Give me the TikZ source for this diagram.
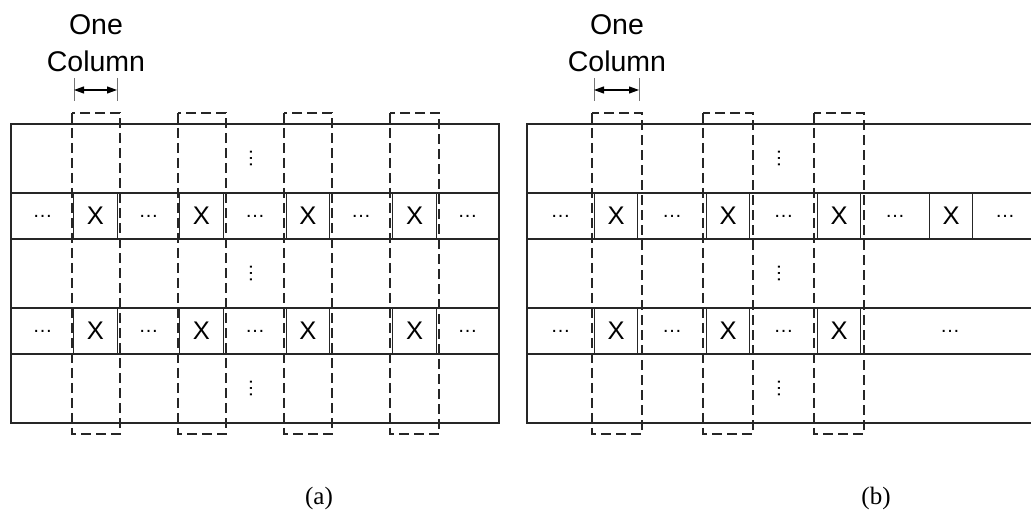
\documentclass[tikz,border=0pt]{standalone}
\usepackage{fontspec}
\setmainfont{Liberation Serif}
\setsansfont{Liberation Sans}
\usetikzlibrary{arrows.meta}

\begin{document}
\begin{tikzpicture}[x=1pt,y=-1pt,row/.style={draw=black!85,line width=1.1pt},cell/.style={draw=black!85,line width=1.1pt,minimum width=43.5pt,minimum height=46pt,inner sep=0pt,font=\sffamily\fontsize{25.5}{25.5}\selectfont},dots/.style={inner sep=0pt,font=\sffamily\fontsize{20}{20}\selectfont},colbox/.style={draw=black!85,line width=1.1pt,dash pattern=on 10pt off 5pt},lbl/.style={anchor=base,inner sep=0pt,font=\sffamily\fontsize{28.5}{34}\selectfont},tick/.style={draw=black!55,line width=1pt},a/.style={{Triangle[length=10pt,width=7pt]}-{Triangle[length=10pt,width=7pt]},line width=1.1pt},captxt/.style={anchor=base,inner sep=0pt,font=\fontsize{25}{28}\selectfont}]
\clip (0,0) rectangle (1031,510);
% (a) four columns in every X row
\draw[row] (11,124) rectangle (499,423) (11,193)--(499,193) (11,239)--(499,239) (11,308)--(499,308) (11,354)--(499,354);
\node[cell] (a21) at (95.5,216) {X}; \node[cell] (a22) at (201.5,216) {X}; \node[cell] (a23) at (308,216) {X}; \node[cell] (a24) at (414.5,216) {X};
\node[cell] (a41) at (95.5,331) {X}; \node[cell] (a42) at (201.5,331) {X}; \node[cell] (a43) at (308,331) {X}; \node[cell] (a44) at (414.5,331) {X};
\node[dots] (ad20) at (42.5,216) {…}; \node[dots] (ad21) at (148.5,216) {…}; \node[dots] (ad22) at (255,216) {…}; \node[dots] (ad23) at (361,216) {…}; \node[dots] (ad24) at (467.5,216) {…};
\node[dots] (ad40) at (42.5,331) {…}; \node[dots] (ad41) at (148.5,331) {…}; \node[dots] (ad42) at (255,331) {…}; \node[dots] (ad44) at (467.5,331) {…};
\node[dots,rotate=90] (av1) at (251,158.5) {…}; \node[dots,rotate=90] (av3) at (251,273.5) {…}; \node[dots,rotate=90] (av5) at (251,388.5) {…};
\draw[colbox] (72,113) rectangle (120,434); \draw[colbox] (178,113) rectangle (226,434); \draw[colbox] (284,113) rectangle (332,434); \draw[colbox] (390,113) rectangle (439,434);
\node[lbl] (aone) at (96,35) {One}; \node[lbl] (acol) at (96,72) {Column};
\coordinate (al) at (74,90); \coordinate (ar) at (117,90);
\draw[tick] (74,78)--(74,101) (117,78)--(117,101); \draw[a] (al)--(ar);
\node[captxt] (capa) at (319,504) {(a)};
% (b) the last row runs out after three columns
\draw[row] (527,124) rectangle (1040,423) (527,193)--(1040,193) (527,239)--(1040,239) (527,308)--(1040,308) (527,354)--(1040,354);
\node[cell] (b21) at (616,216) {X}; \node[cell] (b22) at (728,216) {X}; \node[cell] (b23) at (839,216) {X}; \node[cell] (b24) at (951,216) {X};
\node[cell] (b41) at (616,331) {X}; \node[cell] (b42) at (728,331) {X}; \node[cell] (b43) at (839,331) {X};
\node[dots] (bd20) at (560.5,216) {…}; \node[dots] (bd21) at (672,216) {…}; \node[dots] (bd22) at (783.5,216) {…}; \node[dots] (bd23) at (895,216) {…}; \node[dots] (bd24) at (1005,216) {…};
\node[dots] (bd40) at (560.5,331) {…}; \node[dots] (bd41) at (672,331) {…}; \node[dots] (bd42) at (783.5,331) {…}; \node[dots] (bd43) at (950,331) {…};
\node[dots,rotate=90] (bv1) at (779,158.5) {…}; \node[dots,rotate=90] (bv3) at (779,273.5) {…}; \node[dots,rotate=90] (bv5) at (779,388.5) {…};
\draw[colbox] (592,113) rectangle (642,434); \draw[colbox] (703,113) rectangle (753,434); \draw[colbox] (814,113) rectangle (864,434);
\node[lbl] (bone) at (617,35) {One}; \node[lbl] (bcol) at (617,72) {Column};
\coordinate (bl) at (594,90); \coordinate (br) at (639,90);
\draw[tick] (594,78)--(594,101) (639,78)--(639,101); \draw[a] (bl)--(br);
\node[captxt] (capb) at (876,504) {(b)};
\end{tikzpicture}
\end{document}
